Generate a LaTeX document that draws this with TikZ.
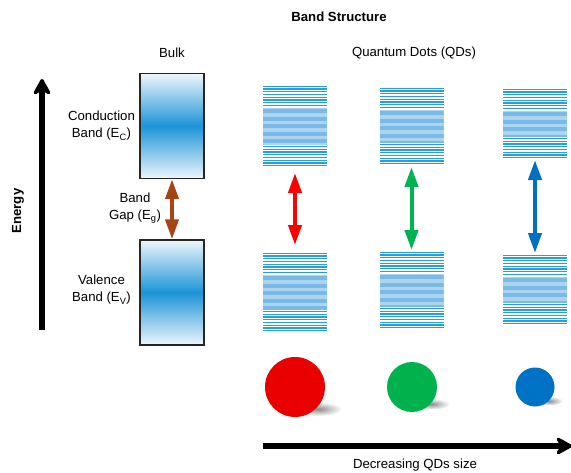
\documentclass[tikz,border=0pt]{standalone}
\usepackage{fontspec}
\setmainfont{Liberation Sans}
\usetikzlibrary{arrows.meta,calc}
\definecolor{qdline}{RGB}{35,160,225}
\definecolor{qdlight}{RGB}{172,211,240}
\definecolor{qdmid}{RGB}{122,186,231}
\definecolor{bulkmid}{RGB}{28,148,214}
\definecolor{bulkedge}{RGB}{238,246,252}
\definecolor{gapbrown}{RGB}{165,68,20}
\definecolor{qdred}{RGB}{255,0,0}
\definecolor{qdgreen}{RGB}{0,178,80}
\definecolor{qdblue}{RGB}{0,112,192}
\definecolor{ballred}{RGB}{235,0,0}
\definecolor{ballgreen}{RGB}{0,178,75}
\definecolor{ballblue}{RGB}{0,114,198}
\newcommand\qdstack[4]{%
  \node[qdbox, minimum height={(#4-#3)*1pt}] (#1) at (#2,{(#3+#4)/2}) {};
  \fill[qdlight] ({#2-32},{#3+22.5}) rectangle ({#2+32},{#4-22.5});
  \begin{scope}
    \clip ({#2-32},{#3+22.5}) rectangle ({#2+32},{#4-22.5});
    \foreach \k in {0,...,5}
      \fill[qdmid] ({#2-32},{#3+24+\k*7.5}) rectangle ({#2+32},{#3+28+\k*7.5});
  \end{scope}
  \foreach \i in {0,...,7}{
    \draw[qdl] ({#2-32},{#3+1.3+\i*2.75}) -- ({#2+32},{#3+1.3+\i*2.75});
    \draw[qdl] ({#2-32},{#4-1.3-\i*2.75}) -- ({#2+32},{#4-1.3-\i*2.75});
  }%
}
\begin{document}
\begin{tikzpicture}[x=1pt,y=-1pt,
  lbl/.style={font=\fontsize{13.2}{17}\selectfont, align=center, inner sep=0pt},
  bold/.style={font=\fontsize{13.2}{17}\selectfont\bfseries, inner sep=0pt},
  bulkbox/.style={draw=black!85, line width=1.4pt, minimum width=64pt, inner sep=0pt,
    top color=bulkedge, bottom color=bulkedge, middle color=bulkmid},
  qdbox/.style={minimum width=64pt, inner sep=0pt, outer sep=0pt},
  qdl/.style={draw=qdline, line width=1.3pt},
  bigarrow/.style={line width=5.5pt, -{Stealth[length=20pt,width=22pt,inset=7pt,round]}},
  gaparrow/.style={line width=4pt, {Triangle[length=20pt,width=13pt]}-{Triangle[length=20pt,width=13pt]}},
  shadow/.style={inner color=black!45, outer color=white}
]
\useasboundingbox (0,0) rectangle (571,472);

% titles
\node[bold] (title) at (339,17) {Band Structure};
\node[lbl] (bulk) at (172,53) {Bulk};
\node[lbl] (qds) at (414,53) {Quantum Dots (QDs)};

% energy axis
\coordinate (ebot) at (42,330);
\coordinate (etop) at (42,79);
\draw[bigarrow] (ebot) -- (etop);
\node[bold, rotate=90] (energy) at (18,211) {Energy};

% bulk bands
\node[bulkbox, minimum height=105pt] (cb) at (172,126) {};
\node[bulkbox, minimum height=105pt] (vb) at (172,292.5) {};
\draw[gaparrow, draw=gapbrown, fill=gapbrown] (cb.south) -- (vb.north);
\node[lbl] (cbl) at (101.5,126) {Conduction\\Band (E\textsubscript{C})};
\node[lbl] (gapl) at (135,208) {Band\\Gap (E\textsubscript{g})};
\node[lbl] (vbl) at (101.5,290) {Valence\\Band (E\textsubscript{V})};

% quantum dot bands
\qdstack{q1t}{295}{85}{167}
\qdstack{q1b}{295}{252}{332}
\qdstack{q2t}{411.5}{87}{165}
\qdstack{q2b}{411.5}{251}{329}
\qdstack{q3t}{535}{88}{159}
\qdstack{q3b}{535}{254}{325}

\draw[gaparrow, draw=qdred, fill=qdred, shorten <=6pt, shorten >=7pt] (q1t.south) -- (q1b.north);
\draw[gaparrow, draw=qdgreen, fill=qdgreen, shorten <=2pt, shorten >=1pt] (q2t.south) -- (q2b.north);
\draw[gaparrow, draw=qdblue, fill=qdblue, shorten <=1pt, shorten >=1pt] (q3t.south) -- (q3b.north);

% dots with shadows
\shade[shadow] (318,409) ellipse (24 and 7);
\shade[shadow] (431,404) ellipse (19 and 5.5);
\shade[shadow] (549,401) ellipse (14 and 4.5);
\node[circle, fill=ballred, minimum size=60pt, inner sep=0pt] (d1) at (295,387) {};
\node[circle, fill=ballgreen, minimum size=50pt, inner sep=0pt] (d2) at (412,387) {};
\node[circle, fill=ballblue, minimum size=39pt, inner sep=0pt] (d3) at (535,387) {};

% size axis
\coordinate (sl) at (263,446);
\coordinate (sr) at (572,446);
\draw[bigarrow] (sl) -- (sr);
\node[lbl, anchor=base] (sizel) at (415,468.5) {Decreasing QDs size};
\end{tikzpicture}
\end{document}
